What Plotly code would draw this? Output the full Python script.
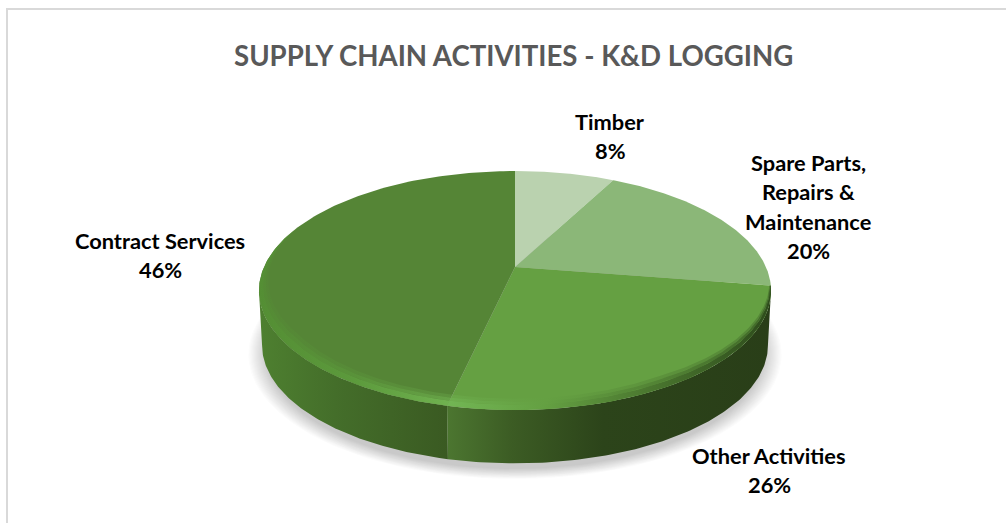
import numpy as np
import plotly.graph_objects as go

# ---- data ----
categories = ["Timber", "Spare Parts,\nRepairs &\nMaintenance", "Other Activities", "Contract Services"]
values = [7.6, 19.9, 26.0, 46.49]
title_text = "SUPPLY CHAIN ACTIVITIES - K&D LOGGING"

# ---- styling / geometry ----
top_colors = ["#BAD2AF", "#8BB778", "#65A042", "#558536"]
side_scales = {
    2: [[0, (76, 118, 48)], [0.2, (60, 92, 36)], [0.48, (44, 68, 26)], [1, (41, 62, 24)]],
    3: [[0, (78, 128, 48)], [0.4, (68, 110, 42)], [1, (58, 90, 34)]],
}
bevel_scales = {
    2: [[0, (114, 182, 84)], [0.3, (100, 160, 66)], [0.68, (70, 112, 44)], [1, (46, 76, 28)]],
    3: [[0, (84, 142, 52)], [0.5, (92, 154, 60)], [1, (112, 178, 80)]],
}
label_anchor = [(610, 121), (808, 162), (769, 455), (160, 240)]
line_step = 29.5
CX, CY, A, B, P = 515.0, 267.0, 251.0, 114.9, 0.197
DEPTH, SHRINK = 55.0, 0.988
EDGE_R, EDGE_L = 101.4, 258.6  # angles where the rim reaches its widest point


def scale(stops_rgb, alpha=1.0):
    return [[s, f"rgba({c[0]},{c[1]},{c[2]},{alpha})"] for s, c in stops_rgb]


def project(theta_deg, r=1.0, dz=0.0, sc=1.0):
    t = np.radians(theta_deg)
    u, v = r * np.sin(t), r * np.cos(t)
    w = 1 + P * v
    return CX + sc * A * u / w, CY + dz - sc * B * v / w


fig = go.Figure()


def poly(x, y, color=None, gradient=None):
    kw = dict(fillgradient=gradient) if gradient else dict(fillcolor=color)
    fig.add_trace(go.Scatter(x=list(x), y=list(y), mode="lines", fill="toself",
                             line=dict(width=0), hoverinfo="skip", showlegend=False, **kw))


# soft shadow under the pie
ring = np.linspace(0, 360, 181)
for k in range(18):
    sx, sy = project(ring, dz=DEPTH + 8, sc=0.97 + k * 0.0042)
    poly(sx, sy, color="rgba(70,70,70,0.014)")

shares = np.array(values) / sum(values) * 360
stops = np.concatenate([[0], np.cumsum(shares)])

# side walls (only the visible front part of each slice)
for i in (3, 2):
    a0, a1 = max(stops[i], EDGE_R), min(stops[i + 1], EDGE_L)
    th = np.linspace(a0, a1, 120)
    ux, uy = project(th)
    lx, ly = project(th, dz=DEPTH, sc=SHRINK)
    poly(np.r_[ux, lx[::-1]], np.r_[uy, ly[::-1]],
         gradient=dict(type="horizontal", colorscale=scale(side_scales[i])))

# top face
for i in range(4):
    th = np.linspace(stops[i], stops[i + 1], 160)
    rx, ry = project(th)
    ax, ay = project(0.0, r=0.0)
    poly(np.r_[ax, rx, ax], np.r_[ay, ry, ay], color=top_colors[i])

# bevelled front rim: tapered band, with softer bands inside it
for i in (3, 2):
    a0, a1 = max(stops[i], 94), min(stops[i + 1], 290)
    th = np.linspace(a0, a1, 120)
    taper = np.clip(np.minimum(th - 94, 290 - th) / 55, 0, 1)
    ox, oy = project(th)
    mx, my = project(th, r=1 - 0.03 * taper)
    jx, jy = project(th, r=1 - 0.048 * taper)
    ix, iy = project(th, r=1 - 0.065 * taper)
    poly(np.r_[jx, ix[::-1]], np.r_[jy, iy[::-1]],
         gradient=dict(type="horizontal", colorscale=scale(bevel_scales[i], 0.3)))
    poly(np.r_[mx, jx[::-1]], np.r_[my, jy[::-1]],
         gradient=dict(type="horizontal", colorscale=scale(bevel_scales[i], 0.65)))
    poly(np.r_[ox, mx[::-1]], np.r_[oy, my[::-1]],
         gradient=dict(type="horizontal", colorscale=scale(bevel_scales[i])))

# data labels
annotations = [dict(x=513, y=55, text=f"<b>{title_text.replace('&', '&amp;')}</b>", showarrow=False,
                    font=dict(family="Lato", size=27.6, color="#595959"), xanchor="center", yanchor="middle")]
for name, val, (lx0, ly0) in zip(categories, values, label_anchor):
    lines = name.split("\n") + [f"{round(val / sum(values) * 100)}%"]
    for n, line in enumerate(lines):
        annotations.append(dict(x=lx0, y=ly0 + n * line_step, text=f"<b>{line.replace('&', '&amp;')}</b>",
                                showarrow=False, xanchor="center", yanchor="middle",
                                font=dict(family="Lato", size=21.8, color="#000000")))

fig.update_layout(
    width=1006, height=523, autosize=False,
    margin=dict(l=0, r=0, t=0, b=0),
    paper_bgcolor="white", plot_bgcolor="white", showlegend=False,
    xaxis=dict(range=[0, 1006], visible=False, fixedrange=True),
    yaxis=dict(range=[523, 0], visible=False, fixedrange=True),
    annotations=annotations,
    shapes=[
        dict(type="line", x0=7, x1=7, y0=8, y1=523, line=dict(color="#D9D9D9", width=2)),
        dict(type="line", x0=7, x1=1006, y0=9, y1=9, line=dict(color="#D9D9D9", width=2)),
    ],
)
fig.write_html("out.html", config=dict(displayModeBar=False),
               post_script="document.body.style.margin='0';document.documentElement.style.overflow='hidden';")
